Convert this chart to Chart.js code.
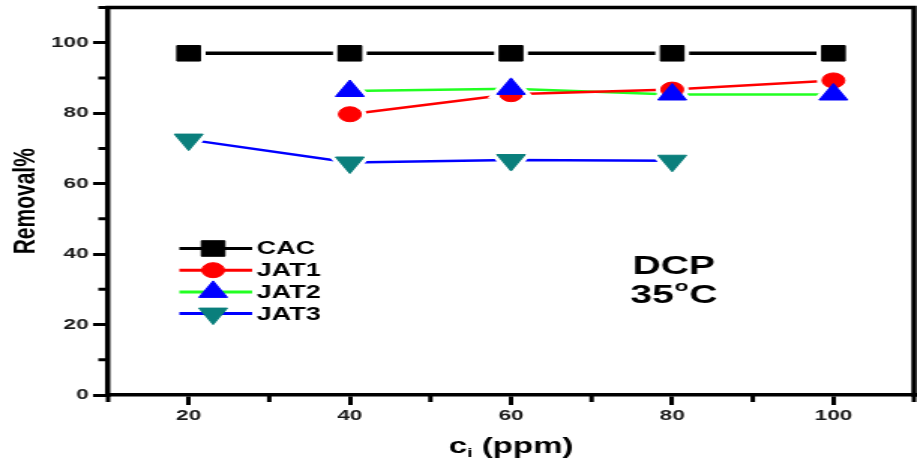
<!DOCTYPE html>
<html>
<head>
<meta charset="utf-8">
<script src="https://cdn.jsdelivr.net/npm/chart.js@4/dist/chart.umd.min.js"></script>
<style>
  html, body { margin: 0; padding: 0; background: #fff; overflow: hidden; }
  /* the plot is laid out on a narrower canvas and widened to the page */
  #wrap { width: 611px; height: 462px; transform: scaleX(1.5008); transform-origin: 0 0; }
  canvas { display: block; }
</style>
</head>
<body>
<div id="wrap"><canvas id="c" width="611" height="462"></canvas></div>
<script>
// ---- data -------------------------------------------------------------
const concentrations = [20, 40, 60, 80, 100];          // ci (ppm)
const cacRemoval  = [97, 97, 97, 97, 97];
const jat1Removal = [null, 79.7, 85.4, 86.7, 89.3];
const jat2Removal = [null, 86.3, 86.9, 85.3, 85.3];
const jat3Removal = [72.5, 66.0, 66.7, 66.5, null];
const seriesNames = ['CAC', 'JAT1', 'JAT2', 'JAT3'];

const xTickValues  = [20, 40, 60, 80, 100];
const xMinorTicks  = [10, 30, 50, 70, 90, 110];
const yTickValues  = [0, 20, 40, 60, 80, 100];
const yMinorTicks  = [10, 30, 50, 70, 90, 110];

// ---- styles -----------------------------------------------------------
const FONT = "'Liberation Sans', Arial, Helvetica, sans-serif";
const seriesStyles = [
  { line: '#000000', marker: '#000000', shape: 'rect',     radius: 11,  rotation: 0,   width: 3.5, z: 1 },
  { line: '#ff0000', marker: '#ff0000', shape: 'circle',   radius: 7.5, rotation: 0,   width: 2.5, z: 3 },
  { line: '#22ff22', marker: '#0000ff', shape: 'triangle', radius: 11,  rotation: 0,   width: 2.5, z: 2 },
  { line: '#0000ff', marker: '#0a7f7c', shape: 'triangle', radius: 11,  rotation: 180, width: 2.5, z: 4 }
];
const seriesValues = [cacRemoval, jat1Removal, jat2Removal, jat3Removal];

function toPoints(values) {
  return concentrations
    .map((c, i) => ({ x: c, y: values[i] }))
    .filter(p => p.y !== null);
}

// each series: its connecting line, a white halo that opens a gap in the
// lines around every symbol, and the symbols themselves on top
const datasets = [];
seriesValues.forEach((vals, i) => {
  const s = seriesStyles[i];
  const pts = toPoints(vals);
  datasets.push({
    label: seriesNames[i] + ' line', data: pts, order: 100 + i,
    borderColor: s.line, borderWidth: s.width, pointRadius: 0, tension: 0, fill: false
  });
  datasets.push({
    label: seriesNames[i] + ' halo', data: pts, order: 50 + i, showLine: false,
    pointStyle: s.shape, pointRadius: s.radius, pointRotation: s.rotation,
    pointBackgroundColor: '#ffffff', pointBorderColor: '#ffffff', pointBorderWidth: 7
  });
  datasets.push({
    label: seriesNames[i], data: pts, order: s.z, showLine: false,
    pointStyle: s.shape, pointRadius: s.radius, pointRotation: s.rotation,
    pointBackgroundColor: s.marker, pointBorderColor: s.marker, pointBorderWidth: 1
  });
});

// ---- plot frame (top / right edges) and the short minor ticks ----------
const frameAndMinorTicks = {
  id: 'frameAndMinorTicks',
  afterDraw(chart) {
    const { ctx, chartArea: a, scales: { x, y } } = chart;
    ctx.save();
    ctx.strokeStyle = '#000';
    ctx.lineWidth = 3.5;
    ctx.lineCap = 'square';
    ctx.beginPath();
    ctx.moveTo(a.left, a.top);
    ctx.lineTo(a.right, a.top);
    ctx.lineTo(a.right, a.bottom);
    ctx.stroke();
    ctx.lineCap = 'butt';
    ctx.lineWidth = 3;
    ctx.beginPath();
    xMinorTicks.forEach(v => {
      const px = x.getPixelForValue(v);
      ctx.moveTo(px, a.bottom);
      ctx.lineTo(px, a.bottom + 7);
    });
    yMinorTicks.forEach(v => {
      const py = y.getPixelForValue(v);
      ctx.moveTo(a.left, py);
      ctx.lineTo(a.left - 6.5, py);
    });
    ctx.stroke();
    ctx.restore();
  }
};

// ---- legend, in-plot caption and x-axis title -------------------------
const legendLayout = { lineFrom: 47.5, lineTo: 96, marker: 70, text: 99, firstRow: 248.5, rowStep: 21.7 };

const annotations = {
  id: 'annotations',
  afterDraw(chart) {
    const { ctx, chartArea: a } = chart;
    ctx.save();
    ctx.fillStyle = '#000';

    // legend
    const drawPoint = Chart.helpers && Chart.helpers.drawPoint;
    seriesNames.forEach((name, i) => {
      const s = seriesStyles[i];
      const ry = legendLayout.firstRow + i * legendLayout.rowStep;
      ctx.strokeStyle = s.line;
      ctx.lineWidth = 3;
      ctx.beginPath();
      ctx.moveTo(a.left + legendLayout.lineFrom, ry);
      ctx.lineTo(a.left + legendLayout.lineTo, ry);
      ctx.stroke();
      ctx.fillStyle = s.marker;
      ctx.strokeStyle = s.marker;
      ctx.lineWidth = 1;
      if (drawPoint) {
        drawPoint(ctx, { pointStyle: s.shape, radius: s.radius, rotation: s.rotation, borderWidth: 1 },
                  a.left + legendLayout.marker, ry);
      }
      ctx.fillStyle = '#000';
      ctx.font = 'bold 18px ' + FONT;
      ctx.textAlign = 'left';
      ctx.textBaseline = 'middle';
      ctx.fillText(name, a.left + legendLayout.text, ry + 1);
    });

    // caption
    const cx = a.left + 377;
    ctx.textAlign = 'center';
    ctx.textBaseline = 'alphabetic';
    ctx.font = 'bold 26px ' + FONT;
    ctx.fillText('DCP', cx, 273.5);

    ctx.textAlign = 'left';
    const big = 'bold 26px ' + FONT, small = 'bold 15px ' + FONT;
    ctx.font = big;
    const w35 = ctx.measureText('35').width, wC = ctx.measureText('C').width;
    ctx.font = small;
    const wo = ctx.measureText('o').width;
    let tx = cx - (w35 + wo + wC + 1) / 2;
    ctx.font = big;  ctx.fillText('35', tx, 302.5); tx += w35 + 0.5;
    ctx.font = small; ctx.fillText('o', tx, 291);   tx += wo + 0.5;
    ctx.font = big;  ctx.fillText('C', tx, 302.5);

    // x-axis title with subscript
    const mid = (a.left + a.right) / 2;
    const f1 = 'bold 22px ' + FONT, f2 = 'bold 13px ' + FONT;
    ctx.font = f1;
    const wc = ctx.measureText('c').width, wr = ctx.measureText(' (ppm)').width;
    ctx.font = f2;
    const wi = ctx.measureText('i').width;
    let ux = mid - (wc + wi + wr) / 2;
    ctx.font = f1; ctx.fillText('c', ux, 452.5); ux += wc;
    ctx.font = f2; ctx.fillText('i', ux, 457); ux += wi;
    ctx.font = f1; ctx.fillText(' (ppm)', ux, 452.5);
    ctx.restore();
  }
};

new Chart(document.getElementById('c'), {
  type: 'line',
  data: { datasets },
  plugins: [frameAndMinorTicks, annotations],
  options: {
    responsive: false,
    animation: false,
    devicePixelRatio: 1,
    events: [],
    layout: { autoPadding: false, padding: { left: 0, right: 2, top: 7.5, bottom: 0 } },
    plugins: { legend: { display: false }, tooltip: { enabled: false } },
    scales: {
      x: {
        type: 'linear', min: 10, max: 110,
        afterBuildTicks: s => { s.ticks = xTickValues.map(v => ({ value: v })); },
        afterFit: s => { s.height = 67; s.paddingLeft = 0; s.paddingRight = 0; },
        border: { display: true, color: '#000', width: 3.5 },
        grid: { display: true, drawOnChartArea: false, drawTicks: true, tickLength: 10,
                lineWidth: 3, tickWidth: 3, color: '#000', tickColor: '#000' },
        ticks: { color: '#1a1a1a', padding: 2, maxRotation: 0, autoSkip: false,
                 font: { family: FONT, size: 15, weight: 'bold' } },
        title: { display: false }
      },
      y: {
        type: 'linear', min: 0, max: 110,
        afterBuildTicks: s => { s.ticks = yTickValues.map(v => ({ value: v })); },
        afterFit: s => { s.width = 72; s.paddingTop = 0; s.paddingBottom = 0; },
        border: { display: true, color: '#000', width: 3.5 },
        grid: { display: true, drawOnChartArea: false, drawTicks: true, tickLength: 10,
                lineWidth: 3, tickWidth: 3, color: '#000', tickColor: '#000' },
        ticks: { color: '#1a1a1a', padding: 3, autoSkip: false,
                 font: { family: FONT, size: 15, weight: 'bold' } },
        title: { display: true, text: 'Removal%', color: '#000',
                 font: { family: FONT, size: 21, weight: 'bold' },
                 padding: { top: 4.5, bottom: 0 } }
      }
    }
  }
});
</script>
</body>
</html>
